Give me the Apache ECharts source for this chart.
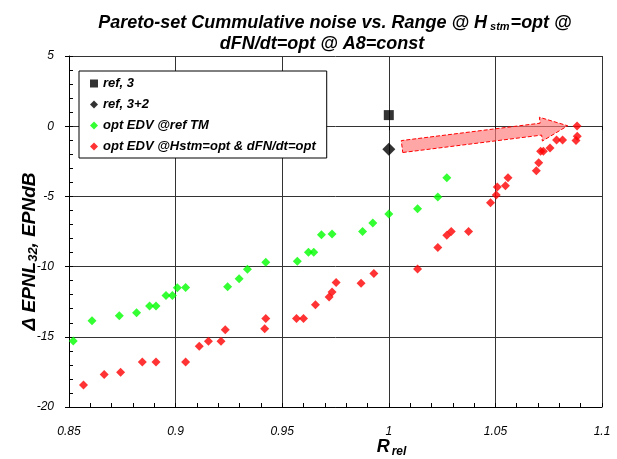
<!DOCTYPE html>
<html>
<head>
<meta charset="utf-8">
<script src="https://cdn.jsdelivr.net/npm/echarts@6/dist/echarts.min.js"></script>
<style>html,body{margin:0;padding:0;background:#fff}#c{width:617px;height:459px}</style>
</head>
<body>
<div id="c"></div>
<script>
const xTicks = [0.85, 0.9, 0.95, 1, 1.05, 1.1];
const yTicks = [-20, -15, -10, -5, 0, 5];
const ref3 = [[1.0, 0.79]];
const ref32 = [[1.0, -1.64]];
const optRefTM = [
  [0.852,-15.3],[0.8608,-13.86],[0.8736,-13.5],[0.8817,-13.29],[0.8878,-12.8],[0.8908,-12.8],
  [0.8955,-12.05],[0.8985,-12.05],[0.9008,-11.5],[0.9047,-11.48],[0.9244,-11.43],[0.9298,-10.86],
  [0.9337,-10.19],[0.9423,-9.69],[0.9571,-9.62],[0.9623,-8.98],[0.9648,-8.98],[0.9684,-7.74],
  [0.9734,-7.67],[0.9877,-7.5],[0.9925,-6.9],[1.0,-6.26],[1.0135,-5.88],[1.023,-5.05],[1.0272,-3.67]
];
const optHstm = [
  [0.8568,-18.43],[0.8665,-17.69],[0.8742,-17.52],[0.8844,-16.79],[0.8908,-16.79],[0.9047,-16.79],
  [0.9111,-15.67],[0.9154,-15.31],[0.9213,-15.31],[0.9233,-14.5],[0.9418,-14.43],[0.9423,-13.69],
  [0.9567,-13.69],[0.96,-13.69],[0.9656,-12.71],[0.972,-12.17],[0.9734,-11.81],[0.9753,-11.14],
  [0.987,-11.19],[0.993,-10.5],[1.0135,-10.17],[1.023,-8.64],[1.0272,-7.76],[1.0293,-7.5],
  [1.0374,-7.5],[1.0477,-5.45],[1.0504,-4.9],[1.0509,-4.33],[1.0547,-4.24],[1.0559,-3.67],
  [1.0692,-3.17],[1.0703,-2.6],[1.0712,-1.79],[1.0725,-1.79],[1.0756,-1.55],[1.0787,-0.98],
  [1.0815,-0.98],[1.0883,0.02],[1.0884,-0.71],[1.0878,-1.02]
];
const arrow = [[1.0062, -1.45, 1.0839, 0.03]];

const chart = echarts.init(document.getElementById('c'), null, {renderer: 'canvas'});
const F = 'Liberation Sans, Arial, sans-serif';
const bi = (size) => ({fontFamily: F, fontSize: size, fontWeight: 'bold', fontStyle: 'italic', color: '#000'});
chart.setOption({
  animation: false,
  backgroundColor: '#fff',
  title: [{
    left: 330, top: 7, textAlign: 'center',
    text: '{t|Pareto-set Cummulative noise vs. Range @ H}{s| stm}{t|=opt @}',
    textStyle: {rich: {
      t: Object.assign(bi(18), {lineHeight: 22}),
      s: Object.assign(bi(11), {lineHeight: 22, padding: [7, 1, 0, 0]})
    }}
  }, {
    left: 317, top: 28, textAlign: 'center',
    text: 'dFN/dt=opt @ A8=const',
    textStyle: Object.assign(bi(18), {lineHeight: 22})
  }],
  grid: {left: 69, right: 15, top: 56, bottom: 52, containLabel: false, outerBoundsMode: 'none'},
  legend: {
    orient: 'vertical', left: 79, top: 71,
    padding: [6, 11, 5, 11], itemGap: 8, itemWidth: 8, itemHeight: 8,
    backgroundColor: '#fff', borderColor: '#000', borderWidth: 1,
    textStyle: Object.assign(bi(13), {lineHeight: 13}),
    data: [
      {name: 'ref, 3', icon: 'rect'},
      {name: 'ref, 3+2', icon: 'diamond'},
      {name: 'opt EDV @ref TM', icon: 'diamond'},
      {name: 'opt EDV @Hstm=opt & dFN/dt=opt', icon: 'diamond'}
    ]
  },
  xAxis: [{
    type: 'value', min: 0.85, max: 1.1, interval: 0.05,
    axisLine: {show: true, onZero: false, lineStyle: {color: '#000', width: 1}},
    axisTick: {show: true, inside: true, length: 4, lineStyle: {color: '#000'}},
    minorTick: {show: true, splitNumber: 5, length: 4, lineStyle: {color: '#000'}},
    splitLine: {show: true, lineStyle: {color: '#333', width: 1}},
    axisLabel: {margin: 19, fontFamily: F, fontSize: 12, fontStyle: 'italic', color: '#000',
      formatter: v => { const t = xTicks.find(k => Math.abs(k - v) < 1e-9); return t === undefined ? '' : String(t); }},
    name: '{b|R}{s|rel}', nameLocation: 'middle', nameGap: 30, nameMoveOverlap: false,
    nameTextStyle: {padding: [0, 0, 0, 112], rich: {
      b: bi(18),
      s: Object.assign(bi(12), {padding: [9, 0, 0, 2]})
    }}
  }, {
    type: 'value', min: 0.85, max: 1.1, interval: 0.05, position: 'bottom',
    axisLine: {show: false}, axisTick: {show: true, inside: false, length: 4, lineStyle: {color: '#000'}},
    axisLabel: {show: false}, splitLine: {show: false}
  }],
  yAxis: [{
    type: 'value', min: -20, max: 5, interval: 5,
    axisLine: {show: true, onZero: false, lineStyle: {color: '#000', width: 1}},
    axisTick: {show: true, inside: true, length: 4, lineStyle: {color: '#000'}},
    minorTick: {show: true, splitNumber: 5, length: 4, lineStyle: {color: '#000'}},
    splitLine: {show: true, lineStyle: {color: '#333', width: 1}},
    axisLabel: {margin: 15, fontFamily: F, fontSize: 12, fontStyle: 'italic', color: '#000'},
    name: '{b|Δ EPNL}{s|32}{b|, EPNdB}', nameLocation: 'middle', nameGap: 29, nameMoveOverlap: false,
    nameTextStyle: {padding: [0, 40, 0, 0], rich: {
      b: bi(19),
      s: Object.assign(bi(13), {padding: [8, 0, 0, 0]})
    }}
  }, {
    type: 'value', min: -20, max: 5, interval: 5, position: 'left',
    axisLine: {show: false}, axisTick: {show: true, inside: false, length: 4, lineStyle: {color: '#000'}},
    axisLabel: {show: false}, splitLine: {show: false}
  }],
  series: [
    {name: 'opt EDV @ref TM', type: 'scatter', data: optRefTM, symbol: 'diamond', symbolSize: 9,
      itemStyle: {color: '#00ff00'}, z: 3},
    {name: 'opt EDV @Hstm=opt & dFN/dt=opt', type: 'scatter', data: optHstm, symbol: 'diamond', symbolSize: 9,
      itemStyle: {color: '#ff0000'}, z: 3},
    {name: 'arrow', type: 'custom', data: arrow, z: 4, silent: true,
      renderItem: function (params, api) {
        const p0 = api.coord([api.value(0), api.value(1)]);
        const p1 = api.coord([api.value(2), api.value(3)]);
        const dx = p1[0] - p0[0], dy = p1[1] - p0[1];
        const L = Math.sqrt(dx * dx + dy * dy);
        const ux = dx / L, uy = dy / L, nx = -uy, ny = ux;
        const hw = 6, hh = 12, hl = 27;
        const bx = p1[0] - ux * hl, by = p1[1] - uy * hl;
        const pts = [
          [p0[0] + nx * hw, p0[1] + ny * hw],
          [bx + nx * hw, by + ny * hw],
          [bx + nx * hh, by + ny * hh],
          [p1[0], p1[1]],
          [bx - nx * hh, by - ny * hh],
          [bx - nx * hw, by - ny * hw],
          [p0[0] - nx * hw, p0[1] - ny * hw]
        ];
        return {type: 'polygon', shape: {points: pts},
          style: {fill: 'rgba(255,120,120,0.65)', stroke: '#ff0000', lineWidth: 1, lineDash: [4, 2]}};
      }},
    {name: 'ref, 3', type: 'scatter', data: ref3, symbol: 'rect', symbolSize: 10,
      itemStyle: {color: '#000'}, z: 5},
    {name: 'ref, 3+2', type: 'scatter', data: ref32, symbol: 'diamond', symbolSize: 13,
      itemStyle: {color: '#000'}, z: 5}
  ]
});
</script>
</body>
</html>
